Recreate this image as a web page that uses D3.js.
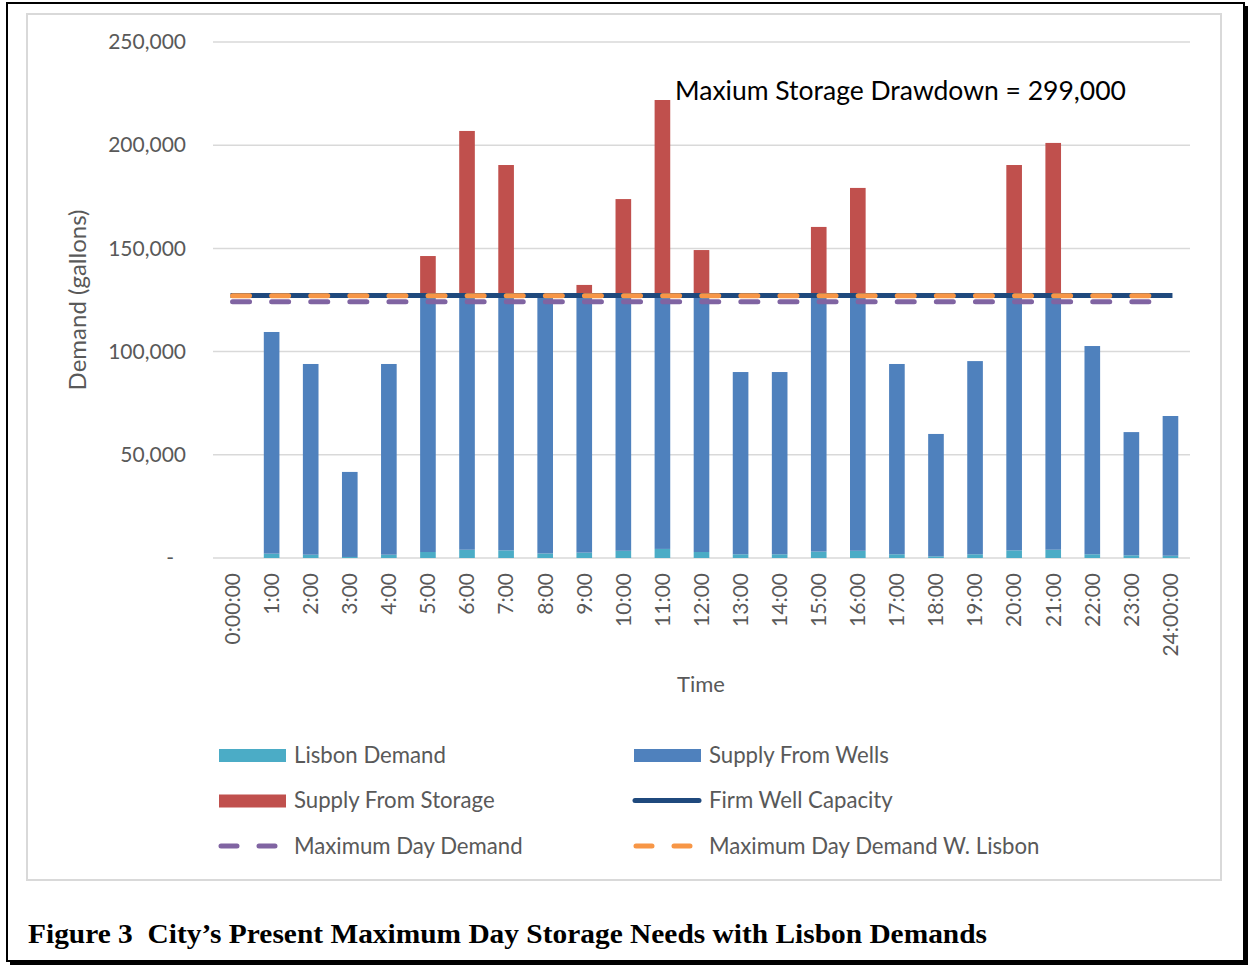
<!DOCTYPE html>
<meta charset="utf-8">
<body style="margin:0;background:#fff">
<script src="https://d3js.org/d3.v7.min.js"></script>
<div id="chart"></div>
<script>

// hours on the x axis
var times = ["0:00:00","1:00","2:00","3:00","4:00","5:00","6:00","7:00","8:00","9:00","10:00","11:00","12:00",
             "13:00","14:00","15:00","16:00","17:00","18:00","19:00","20:00","21:00","22:00","23:00","24:00:00"];

// stacked bar series (gallons)
var lisbonDemand  = [0,2100,1600,500,1600,2900,4000,3700,2200,2600,3500,4400,2900,1800,1800,3100,3500,1800,800,1800,3700,4000,1800,1300,1100];
var supplyWells   = [0,107400,92400,41200,92400,124300,123200,123500,125000,124600,123700,122800,124300,88300,88300,124100,123700,92200,59300,93600,123500,123200,100900,59700,67700];
var supplyStorage = [0,0,0,0,0,19100,79700,63200,0,5100,46700,94700,22000,0,0,33200,52100,0,0,0,63200,73900,0,0,0];

// flat reference lines
var firmWellCapacity = 127200;
var maxDayDemandLisbon = 127000;
var maxDayDemand = 124100;

var yTicks = [0, 50000, 100000, 150000, 200000, 250000];

var colors = {
  lisbon: "#4BACC6",
  wells: "#4F81BD",
  storage: "#C0504D",
  firm: "#1F497D",
  maxDay: "#8064A2",
  maxDayL: "#F79646"
};

var W = 1254, H = 968;
var svg = d3.select("#chart").append("svg")
    .attr("width", W)
    .attr("height", H)
    .style("font-family", "Lato, 'Open Sans', sans-serif");

// outer frame with shadow
svg.append("rect").attr("x", 10).attr("y", 6).attr("width", 1238).attr("height", 959).attr("fill", "#000");
svg.append("rect").attr("x", 7).attr("y", 3).attr("width", 1237).attr("height", 958)
    .attr("fill", "#fff").attr("stroke", "#000").attr("stroke-width", 2);

// chart area border
svg.append("rect").attr("x", 27).attr("y", 14).attr("width", 1194).attr("height", 866)
    .attr("fill", "#fff").attr("stroke", "#d9d9d9").attr("stroke-width", 2);

var plotLeft = 213, plotRight = 1190, plotTop = 42, plotBottom = 558;

var x = d3.scaleBand().domain(times).range([plotLeft, plotRight]).paddingInner(0.6).paddingOuter(0.3);
var xc = function(t) { return x(t) + x.bandwidth() / 2; };
var y = d3.scaleLinear().domain([0, 250000]).range([plotBottom, plotTop]);

// gridlines
svg.append("g").selectAll("line").data(yTicks).enter().append("line")
    .attr("x1", plotLeft).attr("x2", plotRight)
    .attr("y1", function(d) { return y(d); }).attr("y2", function(d) { return y(d); })
    .attr("stroke", "#d9d9d9").attr("stroke-width", 1.5);

// y axis labels
var yAxis = svg.append("g")
    .attr("transform", "translate(" + (plotLeft - 27) + ",0)")
    .call(d3.axisLeft(y).tickValues(yTicks).tickSize(0)
      .tickFormat(function(d) { return d === 0 ? "-" : d3.format(",")(d); }));
yAxis.select(".domain").remove();
yAxis.selectAll("text")
    .attr("x", 0)
    .style("font-family", "Lato, 'Open Sans', sans-serif")
    .style("font-size", "21px")
    .attr("fill", "#595959");
yAxis.selectAll("text").filter(function(d) { return d === 0; }).attr("x", -12);

// stacked bars
var rows = times.map(function(t, i) {
  return {time: t, lisbon: lisbonDemand[i], wells: supplyWells[i], storage: supplyStorage[i]};
});
var stack = d3.stack().keys(["lisbon", "wells", "storage"]);
var series = stack(rows);

svg.append("g").selectAll("g").data(series).enter().append("g")
    .attr("fill", function(s) { return colors[s.key]; })
  .selectAll("rect").data(function(s) { return s; }).enter().append("rect")
    .attr("x", function(d) { return x(d.data.time); })
    .attr("width", x.bandwidth())
    .attr("y", function(d) { return y(d[1]); })
    .attr("height", function(d) { return y(d[0]) - y(d[1]); });

// x axis labels
var xAxis = svg.append("g")
    .attr("transform", "translate(0," + plotBottom + ")")
    .call(d3.axisBottom(x).tickSize(0));
xAxis.select(".domain").remove();
xAxis.selectAll("text")
    .attr("transform", "rotate(-90)")
    .attr("x", -15)
    .attr("y", 0)
    .attr("dy", "0.35em")
    .attr("text-anchor", "end")
    .style("font-family", "Lato, 'Open Sans', sans-serif")
    .style("font-size", "21px")
    .attr("fill", "#595959");

// reference lines
var x0 = xc(times[0]), x1 = xc(times[times.length - 1]);
svg.append("line").attr("x1", x0 - 2).attr("x2", x1 + 2)
    .attr("y1", y(firmWellCapacity)).attr("y2", y(firmWellCapacity))
    .attr("stroke", colors.firm).attr("stroke-width", 5);
svg.append("line").attr("x1", x0).attr("x2", x1)
    .attr("y1", y(maxDayDemand)).attr("y2", y(maxDayDemand))
    .attr("stroke", colors.maxDay).attr("stroke-width", 5)
    .attr("stroke-dasharray", "17,22.1").attr("stroke-linecap", "round");
svg.append("line").attr("x1", x0).attr("x2", x1)
    .attr("y1", y(maxDayDemandLisbon)).attr("y2", y(maxDayDemandLisbon))
    .attr("stroke", colors.maxDayL).attr("stroke-width", 5)
    .attr("stroke-dasharray", "17,22.1").attr("stroke-linecap", "round");

// annotation
svg.append("text")
    .attr("x", 675).attr("y", 100)
    .style("font-size", "26.5px")
    .attr("fill", "#000")
    .text("Maxium Storage Drawdown = 299,000");

// axis titles
svg.append("text")
    .attr("transform", "translate(86,300) rotate(-90)")
    .attr("text-anchor", "middle")
    .style("font-size", "24px")
    .attr("fill", "#595959")
    .text("Demand (gallons)");

svg.append("text")
    .attr("x", 701).attr("y", 692)
    .attr("text-anchor", "middle")
    .style("font-size", "22px")
    .attr("fill", "#595959")
    .text("Time");

// legend
var legendItems = [
  {label: "Lisbon Demand", color: colors.lisbon, type: "rect", col: 0, row: 0},
  {label: "Supply From Wells", color: colors.wells, type: "rect", col: 1, row: 0},
  {label: "Supply From Storage", color: colors.storage, type: "rect", col: 0, row: 1},
  {label: "Firm Well Capacity", color: colors.firm, type: "line", col: 1, row: 1},
  {label: "Maximum Day Demand", color: colors.maxDay, type: "dash", col: 0, row: 2},
  {label: "Maximum Day Demand W. Lisbon", color: colors.maxDayL, type: "dash", col: 1, row: 2}
];
var legend = svg.selectAll(".legend").data(legendItems).enter().append("g")
    .attr("class", "legend")
    .attr("transform", function(d) {
      return "translate(" + (d.col === 0 ? 219 : 634) + "," + (755 + d.row * 45.5) + ")";
    });
legend.filter(function(d) { return d.type === "rect"; }).append("rect")
    .attr("x", 0).attr("y", -6).attr("width", 67).attr("height", 13)
    .attr("fill", function(d) { return d.color; });
legend.filter(function(d) { return d.type === "line"; }).append("line")
    .attr("x1", 1).attr("x2", 65).attr("y1", 0).attr("y2", 0)
    .attr("stroke", function(d) { return d.color; }).attr("stroke-width", 5)
    .attr("stroke-linecap", "round");
legend.filter(function(d) { return d.type === "dash"; }).append("line")
    .attr("x1", 2).attr("x2", 60).attr("y1", 0).attr("y2", 0)
    .attr("stroke", function(d) { return d.color; }).attr("stroke-width", 5)
    .attr("stroke-dasharray", "16,22").attr("stroke-linecap", "round");
legend.append("text")
    .attr("x", 75).attr("y", 0).attr("dy", "0.35em")
    .style("font-size", "22.2px")
    .attr("fill", "#595959")
    .text(function(d) { return d.label; });

// caption
svg.append("text")
    .attr("x", 28).attr("y", 943)
    .attr("xml:space", "preserve")
    .style("white-space", "pre")
    .style("font-family", "'Liberation Serif', 'Times New Roman', serif")
    .style("font-weight", "bold")
    .style("font-size", "28px")
    .attr("textLength", 959)
    .attr("lengthAdjust", "spacingAndGlyphs")
    .attr("fill", "#000")
    .text("Figure 3  City\u2019s Present Maximum Day Storage Needs with Lisbon Demands");

</script>
</body>
